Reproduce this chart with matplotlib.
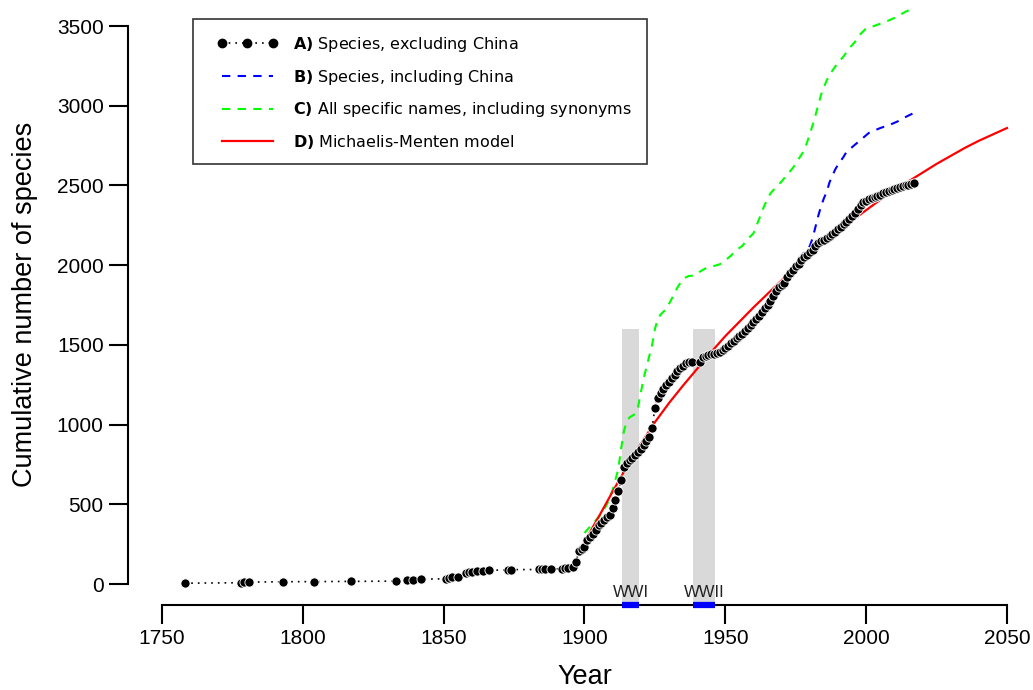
import matplotlib
matplotlib.use("Agg")
import matplotlib.pyplot as plt
from matplotlib.lines import Line2D
from matplotlib.patches import Rectangle

plt.rcParams['font.family'] = ['Liberation Sans', 'DejaVu Sans']
plt.rcParams['mathtext.fontset'] = 'dejavusans'

# ---- data -------------------------------------------------------------
years_a = [1758, 1778, 1779, 1781, 1793, 1804, 1817, 1833, 1837, 1839, 1842,
           1851, 1852, 1853, 1855, 1858, 1859, 1860, 1862, 1864, 1866, 1873,
           1874, 1884, 1885, 1886, 1888, 1892, 1893, 1894, 1896, 1897, 1898,
           1899, 1900, 1901, 1902, 1903, 1904, 1905, 1906, 1907, 1908, 1909,
           1910, 1911, 1912, 1913, 1914, 1915, 1916, 1917, 1918, 1919, 1920,
           1921, 1922, 1923, 1924, 1925, 1926, 1927, 1928, 1929, 1930, 1931,
           1932, 1933, 1934, 1935, 1936, 1937, 1938, 1941, 1942, 1943, 1944,
           1945, 1946, 1947, 1948, 1949, 1950, 1951, 1952, 1953, 1954, 1955,
           1956, 1957, 1958, 1959, 1960, 1961, 1962, 1963, 1964, 1965, 1966,
           1967, 1968, 1969, 1970, 1971, 1972, 1973, 1974, 1975, 1976, 1977,
           1978, 1979, 1980, 1981, 1982, 1983, 1984, 1985, 1986, 1987, 1988,
           1989, 1990, 1991, 1992, 1993, 1994, 1995, 1996, 1997, 1998, 1999,
           2000, 2001, 2002, 2003, 2004, 2005, 2006, 2007, 2008, 2009, 2010,
           2011, 2012, 2013, 2014, 2015, 2016, 2017]
species_a = [5, 8, 10, 12, 14, 15, 16, 18, 22, 25, 30,
             33, 37, 41, 45, 72, 76, 78, 82, 84, 86, 88,
             90, 91, 92, 93, 94, 96, 98, 100, 108, 135, 210,
             222, 235, 275, 295, 315, 340, 370, 385, 400, 420, 435,
             475, 530, 585, 650, 735, 760, 775, 790, 810, 825, 845,
             875, 900, 925, 980, 1105, 1165, 1195, 1225, 1250, 1270, 1290,
             1310, 1335, 1355, 1370, 1385, 1390, 1392, 1395, 1425, 1432, 1438,
             1442, 1445, 1450, 1458, 1468, 1480, 1495, 1510, 1525, 1540, 1555,
             1570, 1590, 1605, 1625, 1645, 1662, 1680, 1705, 1730, 1750, 1778,
             1805, 1835, 1860, 1878, 1890, 1925, 1948, 1972, 1995, 2010, 2030,
             2050, 2062, 2080, 2095, 2120, 2140, 2150, 2160, 2170, 2180, 2195,
             2205, 2225, 2240, 2255, 2270, 2290, 2310, 2330, 2355, 2380, 2395,
             2405, 2415, 2420, 2428, 2435, 2442, 2450, 2458, 2465, 2472, 2478,
             2485, 2490, 2495, 2500, 2505, 2510, 2517]

years_b = [1976, 1978, 1980, 1981, 1982, 1983, 1984, 1985, 1986, 1987, 1988,
           1989, 1990, 1991, 1992, 1993, 1995, 1997, 1999, 2001, 2003, 2005,
           2007, 2009, 2011, 2013, 2015, 2017]
species_b = [2040, 2080, 2120, 2170, 2240, 2310, 2370, 2420, 2460, 2520, 2560,
             2600, 2630, 2655, 2680, 2710, 2740, 2770, 2800, 2830, 2845, 2860,
             2872, 2885, 2900, 2920, 2938, 2955]

years_c = [1900, 1902, 1904, 1906, 1908, 1910, 1912, 1913, 1914, 1915, 1916,
           1918, 1919, 1920, 1921, 1922, 1923, 1924, 1925, 1926, 1927, 1929,
           1931, 1933, 1935, 1937, 1939, 1941, 1943, 1946, 1948, 1950, 1952,
           1954, 1956, 1958, 1960, 1962, 1964, 1966, 1968, 1970, 1972, 1974,
           1976, 1978, 1980, 1982, 1984, 1986, 1988, 1990, 1992, 1994, 1996,
           1998, 2000, 2002, 2004, 2006, 2008, 2010, 2012, 2014, 2016, 2017]
names_c = [320, 360, 400, 440, 500, 590, 720, 850, 960, 1020, 1045,
           1067, 1110, 1200, 1290, 1360, 1430, 1500, 1600, 1660, 1690, 1725,
           1790, 1860, 1915, 1932, 1935, 1960, 1980, 1995, 2005, 2030, 2060,
           2095, 2120, 2165, 2200, 2290, 2380, 2450, 2490, 2525, 2570, 2610,
           2665, 2720, 2820, 2940, 3070, 3160, 3220, 3270, 3310, 3360, 3400,
           3450, 3485, 3495, 3508, 3520, 3535, 3550, 3570, 3590, 3605, 3615]

years_d = [1898, 1900, 1905, 1910, 1915, 1920, 1925, 1930, 1935, 1940, 1945,
           1950, 1955, 1960, 1965, 1970, 1975, 1980, 1985, 1990, 1995, 2000,
           2005, 2010, 2015, 2020, 2025, 2030, 2035, 2040, 2045, 2050]
model_d = [200, 265, 420, 580, 735, 880, 1015, 1135, 1245, 1350, 1455,
           1555, 1645, 1735, 1820, 1905, 1985, 2065, 2140, 2210, 2280, 2345,
           2410, 2470, 2525, 2580, 2635, 2685, 2735, 2780, 2820, 2860]

wars = ["WWI", "WWII"]
war_start = [1914, 1939]
war_end = [1918, 1945]
war_bar_top = 1600

labels = [r"$\mathbf{A)}$ Species, excluding China",
          r"$\mathbf{B)}$ Species, including China",
          r"$\mathbf{C)}$ All specific names, including synonyms",
          r"$\mathbf{D)}$ Michaelis-Menten model"]

x_ticks = [1750, 1800, 1850, 1900, 1950, 2000, 2050]
y_ticks = [0, 500, 1000, 1500, 2000, 2500, 3000, 3500]

# ---- figure -----------------------------------------------------------
W, H = 1033, 690
fig = plt.figure(figsize=(W / 100, H / 100), dpi=100)
ax_l, ax_r, ax_b, ax_t = 128, 1030, 605, 2
ax = fig.add_axes([ax_l / W, 1 - ax_b / H, (ax_r - ax_l) / W, (ax_b - ax_t) / H])

pxy = (1007 - 162) / 300.0
pyv = (584 - 26) / 3500.0
xmin = 1750 - (162 - ax_l) / pxy
xmax = 1750 + (ax_r - 162) / pxy
ymin = -(ax_b - 584) / pyv
ymax = (584 - ax_t) / pyv
ax.set_xlim(xmin, xmax)
ax.set_ylim(ymin, ymax)

# war bars
for name, s, e in zip(wars, war_start, war_end):
    x0, x1 = s - 0.6, e + 1.4
    ax.fill_between([x0, x1], ymin, war_bar_top, color='#d9d9d9', lw=0, zorder=1)
    ax.plot([x0, x1], [0, 0], transform=ax.get_xaxis_transform(), color='#0000ff',
            lw=4.5, solid_capstyle='butt', clip_on=False, zorder=6)
    ax.text((x0 + x1) / 2, -52, name, ha='center', va='center', fontsize=12,
            color='#222222', zorder=5)

ax.plot(years_c, names_c, color='#00ff00', lw=1.5, dashes=(4, 3.5), zorder=3)
ax.plot(years_b, species_b, color='#0000ff', lw=1.5, dashes=(4, 3.5), zorder=3)
ax.plot(years_d, model_d, color='#ff0000', lw=1.6, zorder=3)
ax.plot(years_a, species_a, color='black', lw=1.2, ls=(0, (1, 3)), marker='o',
        markersize=6.6, markerfacecolor='black', markeredgecolor='white',
        markeredgewidth=0.6, zorder=4)

# axes styling
for sp in ['top', 'right']:
    ax.spines[sp].set_visible(False)
ax.spines['left'].set_bounds(0, 3500)
ax.spines['bottom'].set_bounds(1750, 2050)
for sp in ['left', 'bottom']:
    ax.spines[sp].set_linewidth(1.5)
    ax.spines[sp].set_color('black')
ax.set_xticks(x_ticks)
ax.set_yticks(y_ticks)
ax.tick_params(axis='both', length=14, width=1.5, labelsize=15, pad=3.5,
               color='black')
ax.patch.set_visible(False)

fig.text(585 / W, 1 - 677 / H, "Year", ha='center', va='center', fontsize=19.5)
fig.text(25 / W, 1 - 304 / H, "Cumulative number of species", ha='center',
         va='center', rotation=90, fontsize=19.5)

# legend frame (drawn separately for exact padding)
box_l, box_t, box_r, box_b = 193, 19, 647, 164
fig.patches.append(Rectangle((box_l / W, 1 - box_b / H), (box_r - box_l) / W,
                             (box_b - box_t) / H, transform=fig.transFigure,
                             facecolor='white', edgecolor='#333333', lw=1.2,
                             zorder=8))

handles = [
    Line2D([], [], color='black', lw=1.2, ls=(0, (1, 3)), marker='o', markersize=6,
           markerfacecolor='black', markeredgecolor='black'),
    Line2D([], [], color='#0000ff', lw=1.5, dashes=(4, 3.5)),
    Line2D([], [], color='#00ff00', lw=1.5, dashes=(4, 3.5)),
    Line2D([], [], color='#ff0000', lw=1.6),
]
leg = fig.legend(handles, labels, loc='upper left',
                 bbox_to_anchor=(217 / W, 1 - 35 / H), bbox_transform=fig.transFigure,
                 borderaxespad=0, prop={'family': 'DejaVu Sans', 'size': 11.5},
                 handlelength=3.8, handletextpad=0.95, borderpad=0,
                 labelspacing=0.85, numpoints=3, frameon=False)
leg.set_zorder(9)

fig.savefig("out.png", dpi=100)
